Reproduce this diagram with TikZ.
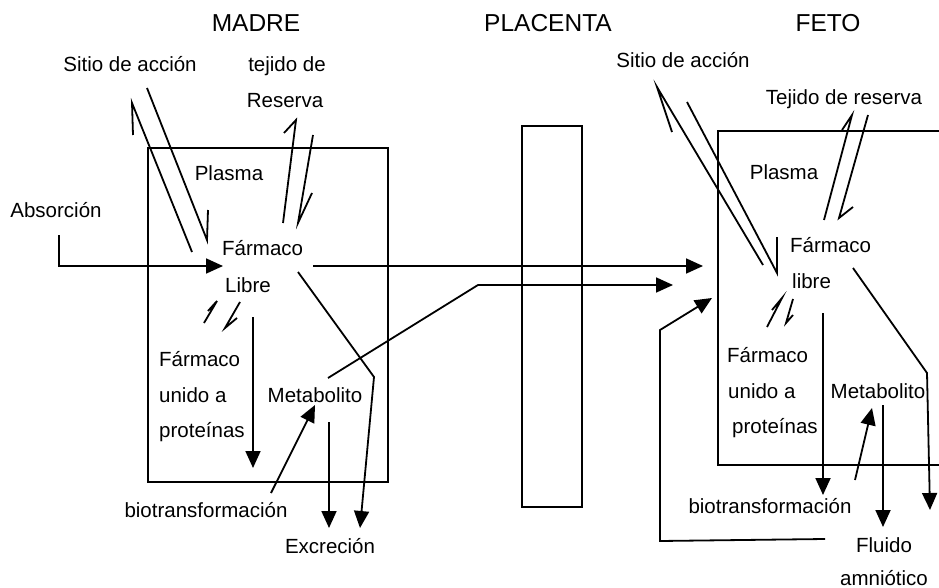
\documentclass[tikz,border=0pt]{standalone}
\usepackage{fontspec}
\setmainfont{Liberation Sans}
\usetikzlibrary{arrows.meta}
\begin{document}
\begin{tikzpicture}[x=1pt,y=-1pt,
  lbl/.style={font=\fontsize{20.5}{22}\selectfont, inner sep=0pt, anchor=base},
  lblw/.style={lbl, anchor=base west},
  hdr/.style={font=\fontsize{24.5}{28}\selectfont, inner sep=0pt, anchor=base},
  ln/.style={line width=1.8pt, line join=miter},
  arr/.style={ln, -{Triangle[length=17pt,width=15pt]}},
  boxline/.style={draw, line width=2pt}]
\useasboundingbox (0,0) rectangle (939,588);
% boxes
\draw[boxline] (148,148) coordinate (mTL) rectangle (388,482) coordinate (mBR);
\draw[boxline] (522,126) coordinate (pTL) rectangle (582,507) coordinate (pBR);
\draw[boxline] (945,131) coordinate (fTR) -- (718,131) coordinate (fTL) -- (718,465) coordinate (fBL) -- (945,465) coordinate (fBR);
% headers
\node[hdr] (madre) at (256,32) {MADRE};
\node[hdr] (placenta) at (548,32) {PLACENTA};
\node[hdr] (feto) at (828,32) {FETO};
% left labels
\node[lbl] (sitioM) at (130,72) {Sitio de acción};
\node[lbl] (tejM1) at (287,72) {tejido de};
\node[lbl] (tejM2) at (285,108) {Reserva};
\node[lbl] (plasmaM) at (229,181) {Plasma};
\node[lbl] (absor) at (56,218) {Absorción};
\node[lblw] (farmM) at (222,255) {Fármaco};
\node[lblw] (libreM) at (225,292) {Libre};
\node[lblw] (unM1) at (159,366) {Fármaco};
\node[lblw] (unM2) at (159,402) {unido a};
\node[lblw] (unM3) at (159,437) {proteínas};
\node[lbl] (metaM) at (315,402) {Metabolito};
\node[lbl] (bioM) at (206,517) {biotransformación};
\node[lbl] (excr) at (330,553) {Excreción};
% right labels
\node[lbl] (sitioF) at (683,68) {Sitio de acción};
\node[lbl] (tejF) at (844,105) {Tejido de reserva};
\node[lbl] (plasmaF) at (784,180) {Plasma};
\node[lblw] (farmF) at (790,252) {Fármaco};
\node[lblw] (libreF) at (792,288) {libre};
\node[lblw] (unF1) at (727,362) {Fármaco};
\node[lblw] (unF2) at (728,398) {unido a};
\node[lblw] (unF3) at (732,433) {proteínas};
\node[lbl] (metaF) at (878,398) {Metabolito};
\node[lbl] (bioF) at (770,513) {biotransformación};
\node[lbl] (fluido1) at (884,552) {Fluido};
\node[lbl] (fluido2) at (884,585) {amniótico};
% coordinates for connector ends (left)
\coordinate (absS) at (59,235);
\coordinate (absT) at (223,266);
\coordinate (sA1) at (192,252); \coordinate (sA1t) at (132,103); \coordinate (sA1b) at (133,135);
\coordinate (sA2) at (147,88);  \coordinate (sA2t) at (207,240); \coordinate (sA2b) at (208,210);
\coordinate (tA1) at (283,223); \coordinate (tA1t) at (296,120); \coordinate (tA1b) at (284,133);
\coordinate (tA2) at (313,135); \coordinate (tA2t) at (298,223); \coordinate (tA2b) at (312,193);
\coordinate (fR) at (313,266);  \coordinate (fRt) at (703,266);
\coordinate (fE) at (298,272);  \coordinate (fEk) at (374,377); \coordinate (fEt) at (360,528);
\coordinate (mP) at (328,378);  \coordinate (mPk) at (478,285); \coordinate (mPt) at (673,285);
\coordinate (h1) at (204,323);  \coordinate (h1t) at (217,301); \coordinate (h1b) at (208,311);
\coordinate (h2) at (240,302);  \coordinate (h2t) at (225,328); \coordinate (h2b) at (237,318);
\coordinate (lD) at (253,317);  \coordinate (lDt) at (253,468);
\coordinate (bM) at (271,493);  \coordinate (bMt) at (315,405);
\coordinate (mE) at (329,422);  \coordinate (mEt) at (329,528);
% left connectors
\draw[arr] (absS) |- (absT);
\draw[ln] (sA1) -- (sA1t) -- (sA1b);
\draw[ln] (sA2) -- (sA2t) -- (sA2b);
\draw[ln] (tA1) -- (tA1t) -- (tA1b);
\draw[ln] (tA2) -- (tA2t) -- (tA2b);
\draw[arr] (fR) -- (fRt);
\draw[arr] (fE) -- (fEk) -- (fEt);
\draw[arr] (mP) -- (mPk) -- (mPt);
\draw[ln] (h1) -- (h1t) -- (h1b);
\draw[ln] (h2) -- (h2t) -- (h2b);
\draw[arr] (lD) -- (lDt);
\draw[arr] (bM) -- (bMt);
\draw[arr] (mE) -- (mEt);
% coordinates (right)
\coordinate (sB1) at (763,265); \coordinate (sB1t) at (657,87);  \coordinate (sB1b) at (672,132);
\coordinate (sB2) at (687,102); \coordinate (sB2t) at (777,273); \coordinate (sB2b) at (777,237);
\coordinate (tB1) at (824,220); \coordinate (tB1t) at (852,115); \coordinate (tB1b) at (842,130);
\coordinate (tB2) at (868,115); \coordinate (tB2t) at (839,218); \coordinate (tB2b) at (853,207);
\coordinate (lR) at (853,268);  \coordinate (lRk) at (927,373);  \coordinate (lRt) at (930,510);
\coordinate (lD2) at (823,313); \coordinate (lD2t) at (823,495);
\coordinate (g1) at (767,327);  \coordinate (g1t) at (782,298);  \coordinate (g1b) at (772,310);
\coordinate (g2) at (793,299);  \coordinate (g2t) at (786,323);  \coordinate (g2b) at (793,315);
\coordinate (bF) at (855,480);  \coordinate (bFt) at (872,408);
\coordinate (mF) at (883,405);  \coordinate (mFt) at (883,527);
\coordinate (flS) at (825,539); \coordinate (flA) at (660,541); \coordinate (flB) at (660,330); \coordinate (flT) at (712,298);
% right connectors
\draw[ln] (sB1) -- (sB1t) -- (sB1b);
\draw[ln] (sB2) -- (sB2t) -- (sB2b);
\draw[ln] (tB1) -- (tB1t) -- (tB1b);
\draw[ln] (tB2) -- (tB2t) -- (tB2b);
\draw[arr] (lR) -- (lRk) -- (lRt);
\draw[arr] (lD2) -- (lD2t);
\draw[ln] (g1) -- (g1t) -- (g1b);
\draw[ln] (g2) -- (g2t) -- (g2b);
\draw[arr] (bF) -- (bFt);
\draw[arr] (mF) -- (mFt);
\draw[arr] (flS) -- (flA) -- (flB) -- (flT);
\end{tikzpicture}
\end{document}
